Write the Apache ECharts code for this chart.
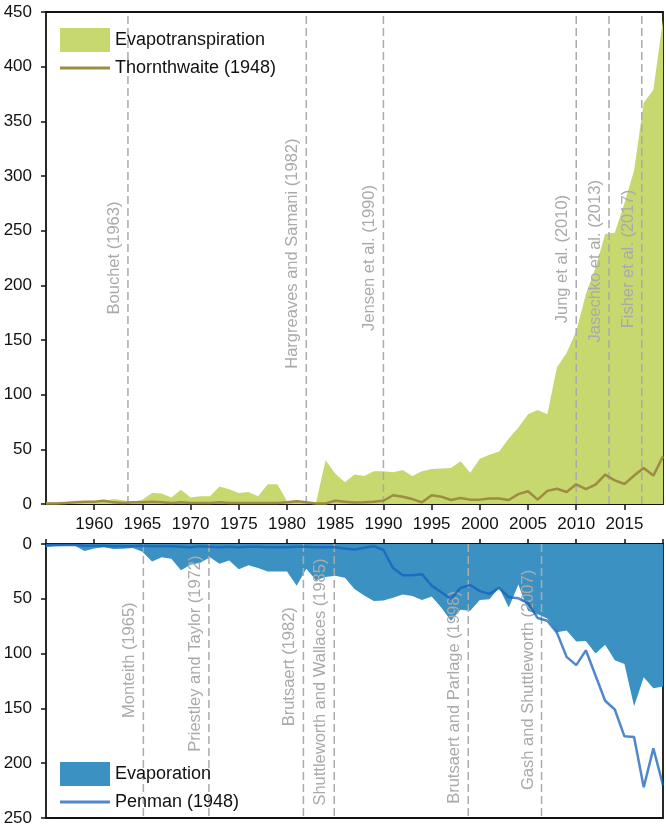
<!DOCTYPE html>
<html><head><meta charset="utf-8">
<script src="https://cdn.jsdelivr.net/npm/echarts@6/dist/echarts.min.js"></script>
<style>html,body{margin:0;padding:0;background:#fff}#c{width:666px;height:828px}</style>
</head><body><div id="c"></div>
<script>
const years = [1955,1956,1957,1958,1959,1960,1961,1962,1963,1964,1965,1966,1967,1968,1969,1970,1971,1972,1973,1974,1975,1976,1977,1978,1979,1980,1981,1982,1983,1984,1985,1986,1987,1988,1989,1990,1991,1992,1993,1994,1995,1996,1997,1998,1999,2000,2001,2002,2003,2004,2005,2006,2007,2008,2009,2010,2011,2012,2013,2014,2015,2016,2017,2018,2019];
const evapotranspiration = [1.5,1.5,1.5,1.5,2,2,2.5,4.5,3.5,2,4,10,9.5,6,13,6,7,7,16,13.5,10,11,7,18,18,2.5,2,1.5,1,40,28,20,27,25.5,30,30,29,31,25.5,30,32,32.5,33,39,28.5,41.5,45,48,60,70,82,86,82,125,138,158,192,216,247,248,275,305,367,379,443];
const thornthwaite = [0.5,0.5,1,1.5,2,2,3,1.5,1,1.5,1.5,2,1.5,1,1.5,1,1,1,1.5,1,1,1,1,1,1,1.5,2.5,1.5,0.5,0.5,3,2,1.3,1.5,2,3,8,6.7,4.5,1.5,8,6.7,3.7,5.5,4,4,5,5,3.7,9,11.6,4,12,14,11,18,13.7,17.7,26.8,21.6,18.3,26,33,26,43.6];
const evaporation = [2.7,2,1.8,1.5,6.4,4,3,4.6,4.3,3.6,7,16,12,13.4,24,19,17,12,18,15,23,19.5,22,25,25,25,38,22.5,33,30,29,30.7,41,47,52,51.5,49,46,47.5,51,48,58,70,60,61,51,50.5,40,58,37,61,64,68,80.5,79,89,88.5,100,92,106,109.5,148,121.5,131.7,130];
const penman = [1,1,1,1,1.5,1.5,1.5,2,2,2,1.5,2,2,2,2.5,3,2,2.5,3,2.5,3,2.5,2.5,3,3,3,2.5,2.5,3,3,3,4,5,3.4,2,5.5,22,28.5,28.5,27.5,38,44,50,40,37.4,43,45.5,40,48.5,49.6,54,67.5,70,81,103,110.5,97,120,143,151,175.5,176,222,186.5,220];

const topAnnYears = [1963.5,1982,1990,2010,2013.4,2016.8];
const topAnnNames = ['Bouchet (1963)','Hargreaves and Samani (1982)','Jensen et al. (1990)','Jung et al. (2010)','Jasechko et al. (2013)','Fisher et al. (2017)'];
const botAnnYears = [1965.1,1971.9,1981.7,1984.9,1998.8,2006.4];
const botAnnNames = ['Monteith (1965)','Priestley and Taylor (1972)','Brutsaert (1982)','Shuttleworth and Wallaces (1985)','Brutsaert and Parlage (1998)','Gash and Shuttleworth (2007)'];
// label centre along each dashed line (layout, in axis units)
const topLabelMid = [225,229,225,224,222,224];
const botLabelMid = [106,100,112,126,140,124];

const FONT = "'Liberation Sans', Arial, sans-serif";
const GREEN = '#c6d86e', BROWN = '#9e8c42', BLUE = '#3b92c2', PEN = 'rgba(21,96,189,0.75)';

function pairs(vals){ return years.map((y,i)=>[y, vals[i]]); }
function annot(names, yMax){
  return function(params, api){
    const x = api.value(0), mid = api.value(1);
    const p0 = api.coord([x, 0]), p1 = api.coord([x, yMax]), pm = api.coord([x, mid]);
    return {type:'group', children:[
      {type:'line', shape:{x1:p0[0],y1:p0[1],x2:p1[0],y2:p1[1]}, style:{stroke:'#ababab', lineWidth:1.5, lineDash:[8,4]}},
      {type:'text', x:pm[0]-5, y:pm[1], rotation:Math.PI/2,
        style:{text:names[params.dataIndex], fill:'#aaaaaa', font:'16.5px '+FONT, align:'center', verticalAlign:'bottom'}}
    ]};
  };
}
const lineIcon = 'path://M0,0 L50,0 L50,3 L0,3 Z';
const axisTxt = {fontSize:17, color:'#111', fontFamily:FONT};

const chart = echarts.init(document.getElementById('c'), null, {renderer:'canvas'});
chart.setOption({
  animation:false,
  textStyle:{fontFamily:FONT},
  grid:[
    {left:46, top:12, width:617, height:492, show:true, borderColor:'#111', borderWidth:1.8, backgroundColor:'transparent'},
    {left:46, top:544, width:617, height:274, show:true, borderColor:'#111', borderWidth:1.8, backgroundColor:'transparent'}
  ],
  xAxis:[
    {gridIndex:0, type:'value', min:1955, max:2019, interval:5, axisLine:{show:false}, splitLine:{show:false},
     axisTick:{length:6, lineStyle:{color:'#111', width:1.5}},
     axisLabel:Object.assign({showMinLabel:false, showMaxLabel:false, margin:12, formatter:v=>String(v)}, axisTxt)},
    {gridIndex:1, type:'value', min:1955, max:2019, interval:5, position:'top', axisLine:{show:false}, splitLine:{show:false},
     axisTick:{length:5, lineStyle:{color:'#111', width:1.5}}, axisLabel:{show:false}}
  ],
  yAxis:[
    {gridIndex:0, type:'value', min:0, max:450, interval:50, axisLine:{show:false}, splitLine:{show:false},
     axisTick:{show:true, length:5, lineStyle:{color:'#111', width:1.5}}, axisLabel:Object.assign({margin:14}, axisTxt)},
    {gridIndex:1, type:'value', min:0, max:250, interval:50, inverse:true, axisLine:{show:false}, splitLine:{show:false},
     axisTick:{show:true, length:5, lineStyle:{color:'#111', width:1.5}}, axisLabel:Object.assign({margin:14}, axisTxt)}
  ],
  legend:[
    {left:55, top:23, orient:'vertical', itemWidth:50, itemHeight:24, itemGap:7,
     textStyle:{fontSize:18, color:'#111', fontFamily:FONT},
     data:[{name:'Evapotranspiration', icon:'rect'}, {name:'Thornthwaite (1948)', icon:lineIcon}]},
    {left:55, top:757, orient:'vertical', itemWidth:50, itemHeight:24, itemGap:7,
     textStyle:{fontSize:18, color:'#111', fontFamily:FONT},
     data:[{name:'Evaporation', icon:'rect'}, {name:'Penman (1948)', icon:lineIcon}]}
  ],
  series:[
    {name:'Evapotranspiration', type:'line', xAxisIndex:0, yAxisIndex:0, data:pairs(evapotranspiration),
     symbol:'none', color:GREEN, lineStyle:{width:0, color:GREEN}, areaStyle:{color:GREEN, opacity:1}, z:1},
    {name:'Thornthwaite (1948)', type:'line', xAxisIndex:0, yAxisIndex:0, data:pairs(thornthwaite),
     symbol:'none', color:BROWN, lineStyle:{width:2.5, color:BROWN}, z:3},
    {type:'custom', xAxisIndex:0, yAxisIndex:0, renderItem:annot(topAnnNames, 450),
     data:topAnnYears.map((y,i)=>[y, topLabelMid[i]]), z:2, silent:true},
    {name:'Evaporation', type:'line', xAxisIndex:1, yAxisIndex:1, data:pairs(evaporation),
     symbol:'none', color:BLUE, lineStyle:{width:0, color:BLUE}, areaStyle:{color:BLUE, opacity:1}, z:1},
    {name:'Penman (1948)', type:'line', xAxisIndex:1, yAxisIndex:1, data:pairs(penman),
     symbol:'none', color:PEN, lineStyle:{width:2.5, color:PEN}, z:3},
    {type:'custom', xAxisIndex:1, yAxisIndex:1, renderItem:annot(botAnnNames, 250),
     data:botAnnYears.map((y,i)=>[y, botLabelMid[i]]), z:2, silent:true}
  ]
});
</script></body></html>
